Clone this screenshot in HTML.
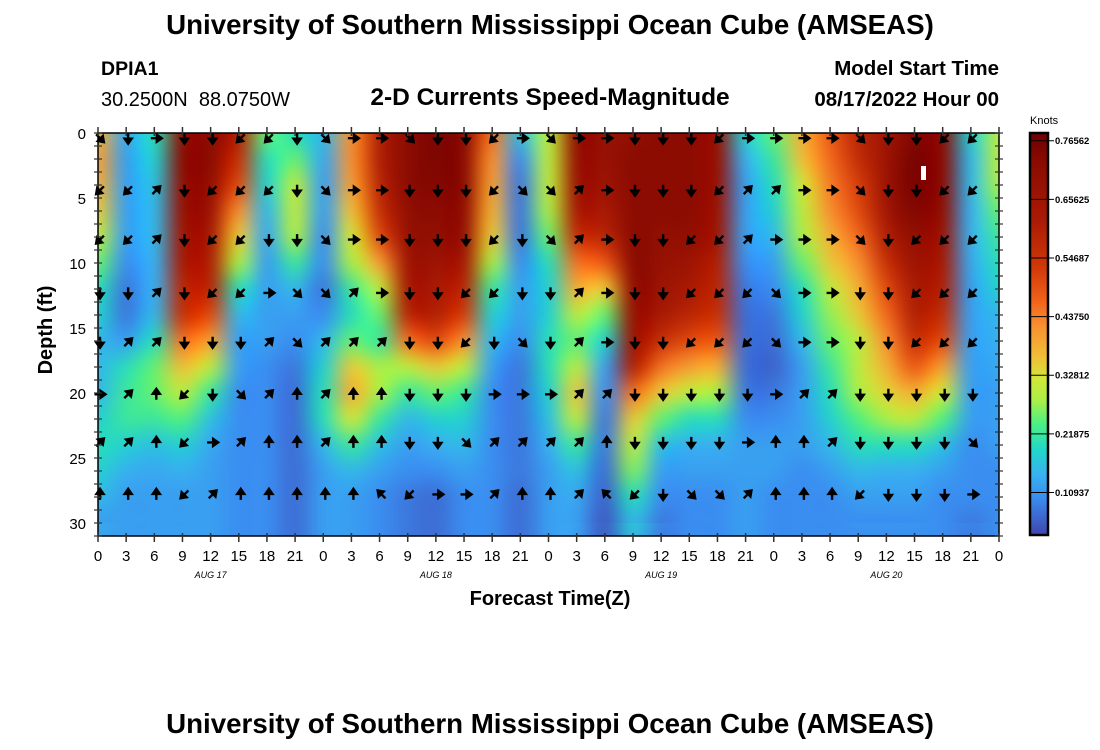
<!DOCTYPE html>
<html><head><meta charset="utf-8"><style>
body{margin:0;background:#fff;width:1100px;height:750px;overflow:hidden;font-family:"Liberation Sans",sans-serif;position:relative}
svg text{font-family:"Liberation Sans",sans-serif}
#heatcanvas{position:absolute;left:98px;top:133px;z-index:0}
#chart{position:absolute;left:0;top:0;z-index:1}
</style></head><body>
<canvas id="heatcanvas" width="901" height="403"></canvas>
<svg id="chart" width="1100" height="750" xmlns="http://www.w3.org/2000/svg">
<text x="550" y="34" text-anchor="middle" font-size="27.7" font-weight="bold">University of Southern Mississippi Ocean Cube (AMSEAS)</text>
<text x="101" y="75" font-size="19.5" font-weight="bold">DPIA1</text>
<text x="101" y="106" font-size="20" xml:space="preserve" style="white-space:pre">30.2500N  88.0750W</text>
<text x="550" y="105" text-anchor="middle" font-size="24.5" font-weight="bold">2-D Currents Speed-Magnitude</text>
<text x="999" y="75" text-anchor="end" font-size="20.5" font-weight="bold">Model Start Time</text>
<text x="999" y="106" text-anchor="end" font-size="20.5" font-weight="bold">08/17/2022 Hour 00</text>
<text transform="translate(52,330) rotate(-90)" text-anchor="middle" font-size="20" font-weight="bold">Depth (ft)</text>
<text x="550" y="605" text-anchor="middle" font-size="20" font-weight="bold">Forecast Time(Z)</text>
<text x="550" y="733" text-anchor="middle" font-size="27.7" font-weight="bold">University of Southern Mississippi Ocean Cube (AMSEAS)</text>
<text x="1030" y="124" font-size="11">Knots</text>
<g id="marks"></g><g id="arrows"></g><g id="axes"></g><g id="cbar"></g>
</svg>
<script>
const hours=[0,3,6,9,12,15,18,21,24,27,30,33,36,39,42,45,48,51,54,57,60,63,66,69,72,75,78,81,84,87,90,93,96];
const depths=[0,2,4,6,8,10,12,14,16,18,20,22,24,26,28,30];
const speed=[
[0.38,0.4,0.38,0.35,0.3,0.25,0.2,0.18,0.15,0.15,0.15,0.18,0.2,0.18,0.15,0.12],
[0.13,0.12,0.12,0.12,0.12,0.1,0.08,0.08,0.12,0.2,0.22,0.22,0.18,0.14,0.12,0.12],
[0.2,0.18,0.16,0.15,0.15,0.14,0.14,0.15,0.2,0.25,0.25,0.22,0.16,0.13,0.12,0.12],
[0.7,0.72,0.7,0.68,0.65,0.62,0.58,0.55,0.45,0.36,0.3,0.24,0.18,0.14,0.12,0.12],
[0.72,0.72,0.7,0.66,0.62,0.6,0.58,0.5,0.4,0.3,0.22,0.16,0.13,0.12,0.12,0.12],
[0.6,0.55,0.5,0.42,0.35,0.28,0.2,0.15,0.12,0.12,0.1,0.1,0.1,0.1,0.1,0.1],
[0.25,0.2,0.18,0.15,0.13,0.12,0.12,0.12,0.12,0.1,0.1,0.1,0.1,0.1,0.1,0.1],
[0.2,0.25,0.3,0.3,0.28,0.22,0.15,0.12,0.1,0.08,0.07,0.07,0.07,0.07,0.07,0.07],
[0.15,0.13,0.12,0.12,0.1,0.1,0.08,0.1,0.15,0.18,0.2,0.2,0.15,0.12,0.12,0.12],
[0.42,0.42,0.4,0.36,0.32,0.28,0.22,0.2,0.25,0.35,0.38,0.32,0.22,0.15,0.12,0.12],
[0.6,0.6,0.58,0.55,0.5,0.4,0.3,0.25,0.22,0.28,0.28,0.22,0.16,0.12,0.1,0.1],
[0.72,0.72,0.72,0.7,0.68,0.65,0.62,0.58,0.45,0.3,0.22,0.15,0.12,0.1,0.08,0.08],
[0.75,0.75,0.74,0.72,0.7,0.66,0.62,0.6,0.5,0.35,0.25,0.18,0.14,0.1,0.07,0.07],
[0.72,0.72,0.72,0.7,0.68,0.62,0.58,0.52,0.42,0.3,0.22,0.18,0.15,0.12,0.1,0.1],
[0.45,0.42,0.4,0.38,0.35,0.28,0.22,0.18,0.15,0.12,0.1,0.1,0.1,0.1,0.1,0.1],
[0.16,0.1,0.08,0.08,0.08,0.1,0.12,0.12,0.1,0.08,0.08,0.08,0.08,0.08,0.07,0.07],
[0.3,0.3,0.3,0.28,0.25,0.2,0.18,0.18,0.2,0.2,0.18,0.16,0.14,0.12,0.12,0.12],
[0.7,0.68,0.66,0.62,0.55,0.45,0.38,0.3,0.25,0.3,0.35,0.3,0.22,0.16,0.13,0.12],
[0.68,0.68,0.66,0.62,0.58,0.48,0.35,0.25,0.18,0.12,0.1,0.08,0.08,0.07,0.06,0.05],
[0.7,0.72,0.72,0.72,0.72,0.72,0.7,0.68,0.66,0.6,0.45,0.35,0.3,0.26,0.2,0.15],
[0.72,0.72,0.72,0.72,0.7,0.68,0.66,0.62,0.55,0.45,0.35,0.25,0.16,0.12,0.1,0.08],
[0.72,0.72,0.72,0.72,0.7,0.66,0.62,0.58,0.5,0.4,0.3,0.2,0.14,0.12,0.1,0.1],
[0.68,0.68,0.68,0.66,0.65,0.6,0.58,0.55,0.48,0.38,0.28,0.2,0.14,0.12,0.1,0.1],
[0.18,0.14,0.12,0.12,0.12,0.1,0.08,0.07,0.07,0.07,0.08,0.1,0.12,0.12,0.12,0.12],
[0.25,0.22,0.2,0.18,0.15,0.12,0.1,0.08,0.07,0.06,0.08,0.1,0.12,0.12,0.1,0.1],
[0.38,0.36,0.32,0.3,0.28,0.25,0.2,0.18,0.15,0.12,0.12,0.12,0.12,0.1,0.1,0.1],
[0.48,0.46,0.44,0.42,0.38,0.35,0.3,0.27,0.25,0.22,0.2,0.18,0.15,0.12,0.1,0.1],
[0.58,0.56,0.52,0.5,0.46,0.42,0.38,0.35,0.3,0.3,0.28,0.24,0.2,0.15,0.12,0.1],
[0.65,0.66,0.66,0.64,0.6,0.55,0.5,0.46,0.42,0.38,0.34,0.28,0.2,0.14,0.12,0.1],
[0.74,0.76,0.76,0.74,0.7,0.66,0.62,0.6,0.55,0.48,0.38,0.3,0.2,0.14,0.12,0.1],
[0.72,0.72,0.72,0.7,0.66,0.62,0.6,0.56,0.5,0.4,0.32,0.24,0.16,0.12,0.1,0.1],
[0.18,0.15,0.15,0.14,0.14,0.13,0.12,0.12,0.12,0.12,0.12,0.12,0.1,0.1,0.1,0.08],
[0.3,0.3,0.28,0.25,0.22,0.2,0.18,0.15,0.14,0.13,0.12,0.12,0.12,0.1,0.1,0.1]];
const arrowHours=[0,3,6,9,12,15,18,21,24,27,30,33,36,39,42,45,48,51,54,57,60,63,66,69,72,75,78,81,84,87,90,93];
const arrowDepths=[0.4,4.4,8.2,12.3,16.1,20.1,23.8,27.8];
const arrowDirs=[
"SE,S,E,S,S,SW,SW,S,SE,E,E,SE,S,S,SW,E,SE,E,E,S,S,S,SW,E,E,E,E,SE,S,S,SW,SW",
"SW,SW,NE,S,SW,SW,SW,S,SE,E,E,S,S,S,SW,SE,SE,NE,E,S,S,S,SW,NE,NE,E,E,SE,S,S,SW,SW",
"SW,SW,NE,S,SW,SW,S,S,SE,E,E,S,S,S,SW,S,SE,NE,E,S,S,SW,SW,NE,E,E,E,SE,S,SW,SW,SW",
"S,S,NE,S,SW,SW,E,SE,SE,NE,E,S,S,SW,SW,S,S,NE,E,S,S,SW,SW,SW,SE,E,E,S,S,SW,SW,SW",
"S,NE,NE,S,S,S,NE,SE,NE,NE,NE,S,S,SW,S,SE,S,NE,E,S,S,SW,SW,SW,SE,E,E,S,S,SW,SW,SW",
"E,NE,N,SW,S,SE,NE,N,NE,N,N,S,S,S,E,E,E,NE,NE,S,S,S,S,S,E,NE,NE,S,S,S,S,S",
"NE,NE,N,SW,E,NE,N,N,NE,N,N,S,S,SE,NE,NE,NE,NE,N,S,S,S,S,E,N,N,NE,S,S,S,S,SE",
"N,N,N,SW,NE,N,N,N,N,N,NW,SW,E,E,NE,N,N,NE,NW,SW,S,SE,SE,NE,N,N,N,SW,S,S,S,E"];
const xTicks=[0,3,6,9,12,15,18,21,24,27,30,33,36,39,42,45,48,51,54,57,60,63,66,69,72,75,78,81,84,87,90,93,96];
const xTickLabels=["0","3","6","9","12","15","18","21","0","3","6","9","12","15","18","21","0","3","6","9","12","15","18","21","0","3","6","9","12","15","18","21","0"];
const dayLabels=["AUG 17","AUG 18","AUG 19","AUG 20"];
const dayHours=[12,36,60,84];
const yTicks=[0,5,10,15,20,25,30];
const cbTicks=[0.76562,0.65625,0.54687,0.4375,0.32812,0.21875,0.10937];
const cbLabels=["0.76562","0.65625","0.54687","0.43750","0.32812","0.21875","0.10937"];

const NS="http://www.w3.org/2000/svg";
const X0=98,X1=999,Y0=133,Y1=536,HMAX=96,DMAX=31;
const xs=h=>X0+(h/HMAX)*(X1-X0);
const ys=d=>Y0+(d/DMAX)*(Y1-Y0);
const VMIN=0.03,VMAX=0.78,CB0=133,CB1=535;
const cbY=v=>CB1-(v-VMIN)/(VMAX-VMIN)*(CB1-CB0);
const stops=[[0.03,[64,68,176]],[0.10,[58,142,240]],[0.14,[56,176,240]],[0.19,[32,216,200]],[0.24,[80,240,128]],[0.28,[168,240,72]],[0.32,[208,232,56]],[0.36,[240,192,56]],[0.42,[248,144,48]],[0.47,[240,96,24]],[0.53,[208,56,8]],[0.62,[168,26,4]],[0.72,[140,12,2]],[0.78,[112,0,0]]];
function rgb(v){
  if(v<=stops[0][0])return stops[0][1];
  for(let i=1;i<stops.length;i++){if(v<=stops[i][0]){const a=stops[i-1],b=stops[i],t=(v-a[0])/(b[0]-a[0]);
    return a[1].map((c,k)=>Math.round(c+(b[1][k]-c)*t));}}
  return stops[stops.length-1][1];}
const col=v=>`rgb(${rgb(v).join(',')})`;
function mk(tag,attrs,parent){const e=document.createElementNS(NS,tag);for(const k in attrs)e.setAttribute(k,attrs[k]);parent.appendChild(e);return e;}

// heatmap: small image of data values, smoothly scaled onto plot area
(function(){
  const nx=hours.length,ny=depths.length;
  const small=document.createElement('canvas');small.width=nx;small.height=ny;
  const sc=small.getContext('2d');const img=sc.createImageData(nx,ny);
  for(let i=0;i<nx;i++)for(let j=0;j<ny;j++){const c=rgb(speed[i][j]);const p=(j*nx+i)*4;
    img.data[p]=c[0];img.data[p+1]=c[1];img.data[p+2]=c[2];img.data[p+3]=255;}
  sc.putImageData(img,0,0);
  const cv=document.getElementById('heatcanvas');const ctx=cv.getContext('2d');
  ctx.imageSmoothingEnabled=true;ctx.imageSmoothingQuality='high';
  const sx=(xs(hours[nx-1])-xs(hours[0]))/(nx-1), sy=(ys(depths[ny-1])-ys(depths[0]))/(ny-1);
  const ox=xs(hours[0])-X0-0.5*sx, oy=ys(depths[0])-Y0-0.5*sy;
  // pad edges by drawing clamped edge strips
  ctx.drawImage(small,ox,oy,nx*sx,ny*sy);
  ctx.drawImage(small,0,0,1,ny,-20,oy,ox+20+sx*0.5,ny*sy);
  ctx.drawImage(small,nx-1,0,1,ny,ox+(nx-0.5)*sx,oy,40,ny*sy);
  ctx.drawImage(small,0,ny-1,nx,1,ox,oy+(ny-0.5)*sy,nx*sx,40);
  ctx.drawImage(small,0,0,nx,1,ox,-20,nx*sx,oy+20+sy*0.5);
})();

const wm=mk('rect',{x:921,y:166,width:5,height:14,fill:'#fff'},document.getElementById('marks'));



const ang={N:0,NE:45,E:90,SE:135,S:180,SW:225,W:270,NW:315};
const ag=document.getElementById('arrows');
arrowDirs.forEach((row,j)=>{row.split(',').forEach((c,i)=>{
  const cx=xs(arrowHours[i])+2,cy=ys(arrowDepths[j]);
  const a=mk('path',{d:'M0,5.5 L0,-1.5 M-3.5,-0.5 L0,-5.5 L3.5,-0.5 Z',stroke:'#000','stroke-width':2.4,fill:'#000','stroke-linejoin':'miter',transform:`translate(${cx},${cy}) rotate(${ang[c]})`},ag);
  
  
});});

const ax=document.getElementById('axes');
const frame=mk('rect',{x:X0,y:Y0,width:X1-X0,height:Y1-Y0,fill:'none',stroke:'#000','stroke-width':1.5},ax);


for(let d=0;d<=DMAX;d++){
  mk('line',{x1:X0-4,x2:X0+4,y1:ys(d),y2:ys(d),stroke:'#333','stroke-width':1.2},ax);
  mk('line',{x1:X1-4,x2:X1+4,y1:ys(d),y2:ys(d),stroke:'#333','stroke-width':1.2},ax);
}
yTicks.forEach(d=>{const t=mk('text',{x:X0-12,y:ys(d)+6,'text-anchor':'end','font-size':15},ax);t.textContent=d;
  
  });
xTicks.forEach((h,i)=>{
  mk('line',{x1:xs(h),x2:xs(h),y1:Y0-6,y2:Y0+3,stroke:'#333','stroke-width':1.5},ax);
  mk('line',{x1:xs(h),x2:xs(h),y1:Y1-3,y2:Y1+6,stroke:'#333','stroke-width':1.5},ax);
  const t=mk('text',{x:xs(h),y:Y1+25,'text-anchor':'middle','font-size':15},ax);t.textContent=xTickLabels[i];
  
  
});
dayHours.forEach((h,i)=>{const t=mk('text',{x:xs(h),y:Y1+42,'text-anchor':'middle','font-size':9,'font-style':'italic','font-family':'Liberation Mono, monospace'},ax);t.textContent=dayLabels[i];
  
  });

const cb=document.getElementById('cbar');
for(let y=CB0;y<CB1;y++){const v=VMAX-(y-CB0+0.5)/(CB1-CB0)*(VMAX-VMIN);
  mk('rect',{x:1030,y:y,width:18,height:1.2,fill:col(v)},cb);}
const cbf=mk('rect',{x:1030,y:CB0,width:18,height:CB1-CB0,fill:'none',stroke:'#000','stroke-width':2.5},cb);


cbTicks.forEach((v,i)=>{const y=cbY(v);
  mk('line',{x1:1030,x2:1054,y1:y,y2:y,stroke:'#000','stroke-width':1},cb);
  const t=mk('text',{x:1055,y:y+3.5,'font-size':9.5,'font-weight':'bold'},cb);t.textContent=cbLabels[i];
  
  });
</script>
</body></html>
